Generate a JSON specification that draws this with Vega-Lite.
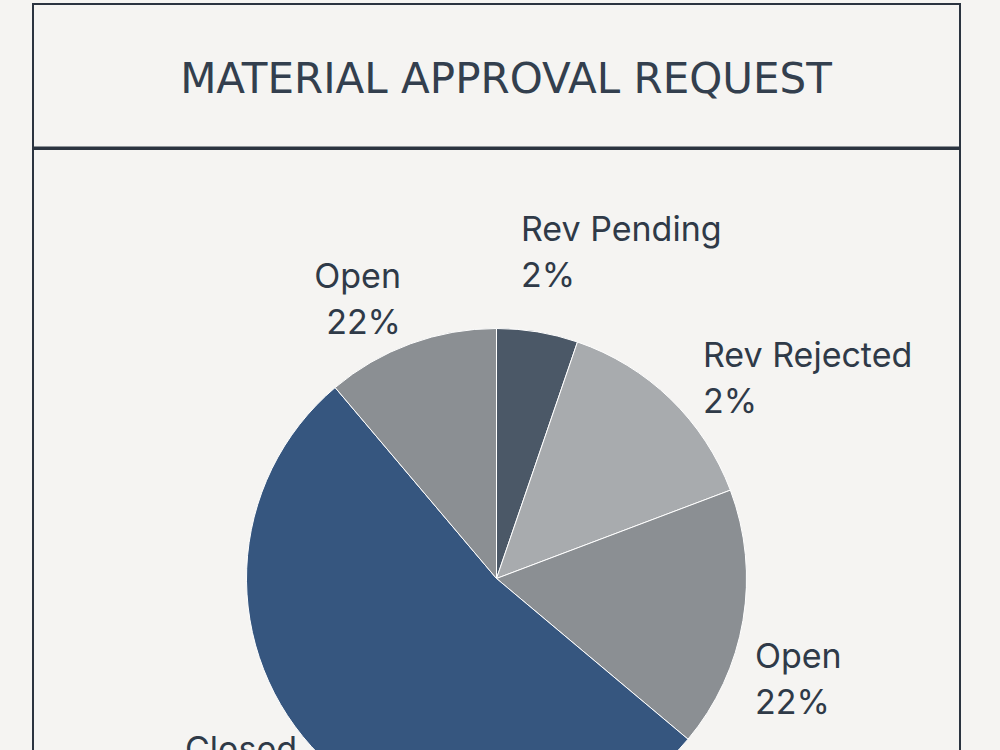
{
  "$schema": "https://vega.github.io/schema/vega-lite/v6.json",
  "background": "#f5f4f2",
  "padding": {"left": 32, "top": 3, "right": 40, "bottom": 0},
  "spacing": -2,
  "config": {"view": {"stroke": "#2b3440", "strokeWidth": 2}, "concat": {"spacing": -2}},
  "datasets": {
    "slices": [
      {"k": 1, "status": "Rev Pending", "value": 18.9, "label": "Rev Pending\n2%"},
      {"k": 2, "status": "Rev Rejected", "value": 50.4, "label": "Rev Rejected\n2%"},
      {"k": 3, "status": "Open", "value": 60.7, "label": "Open\n22%"},
      {"k": 4, "status": "Closed", "value": 189.8, "label": "Closed"},
      {"k": 5, "status": "Open", "value": 40.2, "label": "Open\n22%"}
    ]
  },
  "vconcat": [
    {
      "width": 927,
      "height": 143.5,
      "view": {"stroke": "#2b3440", "strokeWidth": 2},
      "data": {"values": [{"title": "MATERIAL APPROVAL REQUEST"}]},
      "mark": {"type": "text", "font": "DejaVu Sans", "fontSize": 42, "fontWeight": "normal", "fill": "#333f4e", "baseline": "alphabetic", "align": "center", "dx": 9.5, "dy": 17},
      "encoding": {"text": {"field": "title", "type": "nominal"}}
    },
    {
      "width": 927,
      "height": 859,
      "view": {"stroke": "#2b3440", "strokeWidth": 2},
      "data": {"name": "slices"},
      "encoding": {
        "theta": {"field": "value", "type": "quantitative", "stack": true},
        "order": {"field": "k", "type": "quantitative"}
      },
      "layer": [
        {
          "mark": {"type": "arc", "radius": 250, "stroke": "#ffffff", "strokeWidth": 1},
          "encoding": {
            "color": {"field": "status", "type": "nominal", "legend": null,
              "scale": {"domain": ["Rev Pending", "Rev Rejected", "Open", "Closed"], "range": ["#4b5867", "#a8abae", "#8b8f93", "#36567f"]}}
          }
        },
        {
          "mark": {"type": "text", "radius": 300, "font": "Inter", "fontSize": 34, "fill": "#2f3a48", "lineBreak": "\n", "lineHeight": 46, "align": "left", "baseline": "alphabetic", "dx": -24.8, "dy": -41.6},
          "encoding": {"detail": {"field": "status", "type": "nominal"}, "text": {"condition": {"test": "datum.k == 1", "field": "label"}, "value": ""}}
        },
        {
          "mark": {"type": "text", "radius": 300, "font": "Inter", "fontSize": 34, "fill": "#2f3a48", "lineBreak": "\n", "lineHeight": 46, "align": "left", "baseline": "alphabetic", "dx": -2.3, "dy": 4.4},
          "encoding": {"detail": {"field": "status", "type": "nominal"}, "text": {"condition": {"test": "datum.k == 2", "field": "label"}, "value": ""}}
        },
        {
          "mark": {"type": "text", "radius": 300, "font": "Inter", "fontSize": 34, "fill": "#2f3a48", "lineBreak": "\n", "lineHeight": 46, "align": "left", "baseline": "alphabetic", "dx": -37.3, "dy": 39.4},
          "encoding": {"detail": {"field": "status", "type": "nominal"}, "text": {"condition": {"test": "datum.k == 3", "field": "label"}, "value": ""}}
        },
        {
          "mark": {"type": "text", "radius": 300, "font": "Inter", "fontSize": 34, "fill": "#2f3a48", "lineBreak": "\n", "lineHeight": 46, "align": "left", "baseline": "alphabetic", "dx": -99.7, "dy": -30.5},
          "encoding": {"detail": {"field": "status", "type": "nominal"}, "text": {"condition": {"test": "datum.k == 4", "field": "label"}, "value": ""}}
        },
        {
          "mark": {"type": "text", "radius": 300, "font": "Inter", "fontSize": 34, "fill": "#2f3a48", "lineBreak": "\n", "lineHeight": 46, "align": "right", "baseline": "alphabetic", "dx": 7.6, "dy": -8.3},
          "encoding": {"detail": {"field": "status", "type": "nominal"}, "text": {"condition": {"test": "datum.k == 5", "field": "label"}, "value": ""}}
        }
      ]
    }
  ]
}
